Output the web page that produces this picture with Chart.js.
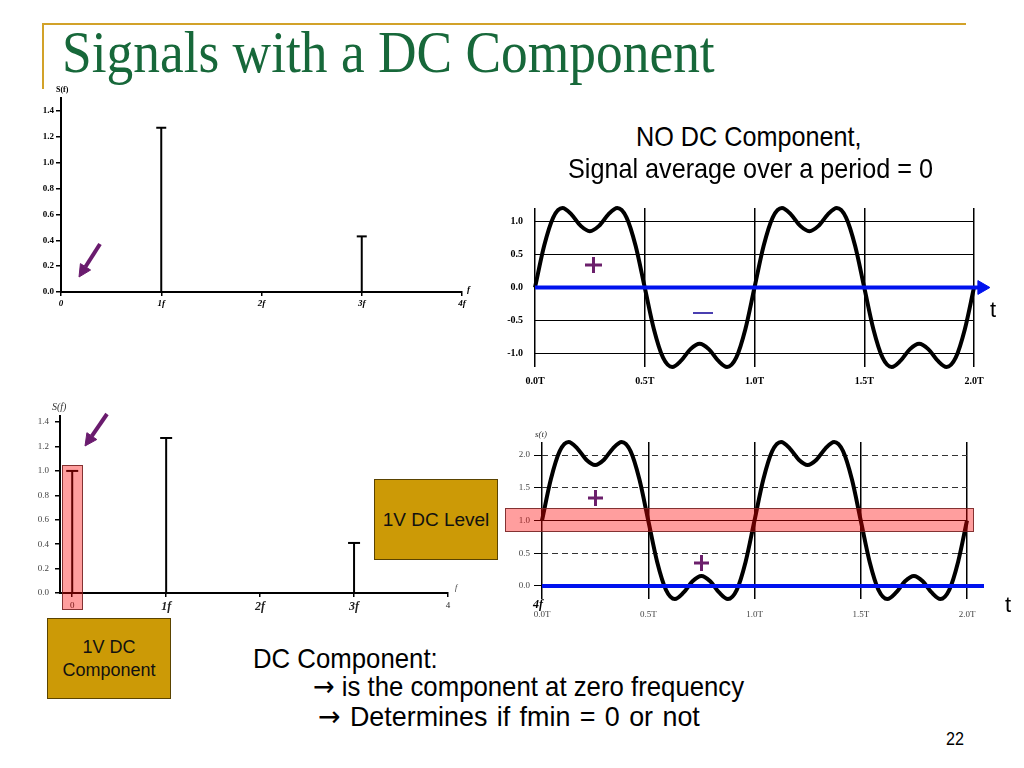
<!DOCTYPE html>
<html>
<head>
<meta charset="utf-8">
<script src="https://cdn.jsdelivr.net/npm/chart.js@4.4.1/dist/chart.umd.min.js"></script>
<style>
  body { margin: 0; background: #fff; }
  #slide { position: relative; width: 1024px; height: 768px; overflow: hidden; font-family: "Liberation Sans", Arial, sans-serif; }
  .panel { position: absolute; }
  .panel canvas { display: block; }
  .txt { position: absolute; white-space: nowrap; line-height: 1; transform-origin: 0 0; color: #000; }
  .serif { font-family: "Liberation Serif", "Times New Roman", serif; }
  .arr { font-family: "DejaVu Sans", sans-serif; }
  .gold { position: absolute; background: #cc9a06; border: 1px solid #5a4300; display: flex; align-items: center; justify-content: center; text-align: center; color: #111; z-index: 3; }
  .pink { position: absolute; background: rgba(255, 0, 0, 0.38); border: 1px solid rgba(110, 30, 30, 0.85); box-sizing: border-box; z-index: 3; }
  svg.over { position: absolute; left: 0; top: 0; z-index: 4; }
</style>
</head>
<body>
<div id="slide">
  <!-- frame lines -->
  <div style="position:absolute;left:42px;top:23px;width:924px;height:2px;background:#d2a229;"></div>
  <div style="position:absolute;left:42px;top:23px;width:2px;height:66px;background:#d2a229;"></div>
  <div class="txt serif" style="left:62px;top:22px;font-size:60px;color:#17683a;transform:scaleX(0.89);">Signals with a DC Component</div>

  <div class="panel" style="left:30px;top:80px;"><canvas id="specTop" width="460" height="240"></canvas></div>
  <div class="panel" style="left:490px;top:180px;"><canvas id="waveTop" width="534" height="215"></canvas></div>
  <div class="panel" style="left:30px;top:395px;"><canvas id="specDc" width="440" height="225"></canvas></div>
  <div class="panel" style="left:490px;top:425px;"><canvas id="waveDc" width="534" height="200"></canvas></div>

  <!-- axis captions -->
  <div class="txt serif" style="left:56px;top:86px;font-size:8px;font-weight:bold;">S(f)</div>
  <div class="txt serif" style="left:467px;top:285px;font-size:9px;font-weight:bold;font-style:italic;">f</div>
  <div class="txt serif" style="left:52px;top:402px;font-size:10px;font-style:italic;color:#333;">S(f)</div>
  <div class="txt serif" style="left:455px;top:584px;font-size:8px;font-style:italic;color:#333;">f</div>
  <div class="txt serif" style="left:535px;top:430px;font-size:9px;font-style:italic;color:#333;">s(t)</div>
  <div class="txt serif" style="left:533px;top:598px;font-size:12px;font-weight:bold;font-style:italic;">4f</div>
  <div class="txt" style="left:990px;top:299px;font-size:22px;">t</div>
  <div class="txt" style="left:1005px;top:594px;font-size:22px;">t</div>

  <div class="txt" style="left:636px;top:123px;font-size:28px;transform:scaleX(0.9);">NO DC Component,</div>
  <div class="txt" style="left:568px;top:155px;font-size:28px;transform:scaleX(0.9);">Signal average over a period = 0</div>

  <div class="pink" style="left:62px;top:465px;width:21px;height:145px;"></div>
  <div class="pink" style="left:505px;top:508px;width:469px;height:24px;"></div>

  <div class="gold" style="left:374px;top:479px;width:122px;height:79px;font-size:19px;">1V DC Level</div>
  <div class="gold" style="left:47px;top:618px;width:122px;height:79px;font-size:18px;line-height:23px;">1V DC<br>Component</div>

  <div class="txt" style="left:253px;top:645px;font-size:28px;transform:scaleX(0.92);">DC Component:</div>
  <div class="txt" style="left:313px;top:673px;font-size:28px;transform:scaleX(0.92);"><span class="arr">&rarr;</span> is the component at zero frequency</div>
  <div class="txt" style="left:318px;top:703px;font-size:28px;word-spacing:2px;transform:scaleX(0.96);"><span class="arr">&rarr;</span> Determines if fmin = 0 or not</div>
  <div class="txt" style="left:946px;top:729px;font-size:19px;transform:scaleX(0.85);">22</div>

  <svg class="over" width="1024" height="768">
    <g stroke="#6a1b6e" fill="#6a1b6e">
      <line x1="100" y1="244" x2="85.5" y2="266.8" stroke-width="4"/>
      <polygon points="79,277 90.6,270 80.4,263.6" stroke-width="1"/>
      <line x1="107" y1="414" x2="91.8" y2="436.1" stroke-width="4"/>
      <polygon points="85,446 96.8,439.5 86.9,432.7" stroke-width="1"/>
    </g>
    <g stroke="#6b1f6b" stroke-width="3">
      <line x1="585" y1="265" x2="602" y2="265"/>
      <line x1="593.5" y1="257" x2="593.5" y2="273"/>
      <line x1="588" y1="498" x2="603" y2="498"/>
      <line x1="595.5" y1="490" x2="595.5" y2="506"/>
      <line x1="694" y1="563" x2="709" y2="563"/>
      <line x1="701.5" y1="555" x2="701.5" y2="571"/>
    </g>
    <line x1="693" y1="313" x2="713" y2="313" stroke="#4a3fb0" stroke-width="2"/>
  </svg>
</div>

<script>
// spectrum without DC
const topFreqs = [1, 3];
const topAmps = [1.27, 0.43];
const topFreqLabels = ['0', '1f', '2f', '3f', '4f'];

// spectrum with 1V DC
const dcFreqs = [0, 1, 3];
const dcAmps = [1.0, 1.27, 0.41];
const dcFreqLabels = ['0', '1f', '2f', '3f', '4'];

// time signals, sampled every T/24 over two periods
const sampleStep = 1 / 24;
const wave = [
  0, 0.63, 1.06, 1.20, 1.10, 0.93, 0.85, 0.93, 1.10, 1.20, 1.06, 0.63,
  0, -0.63, -1.06, -1.20, -1.10, -0.93, -0.85, -0.93, -1.10, -1.20, -1.06, -0.63,
  0, 0.63, 1.06, 1.20, 1.10, 0.93, 0.85, 0.93, 1.10, 1.20, 1.06, 0.63,
  0, -0.63, -1.06, -1.20, -1.10, -0.93, -0.85, -0.93, -1.10, -1.20, -1.06, -0.63,
  0,
];
const waveDc = [
  1, 1.63, 2.06, 2.20, 2.10, 1.93, 1.85, 1.93, 2.10, 2.20, 2.06, 1.63,
  1, 0.37, -0.06, -0.20, -0.10, 0.07, 0.15, 0.07, -0.10, -0.20, -0.06, 0.37,
  1, 1.63, 2.06, 2.20, 2.10, 1.93, 1.85, 1.93, 2.10, 2.20, 2.06, 1.63,
  1, 0.37, -0.06, -0.20, -0.10, 0.07, 0.15, 0.07, -0.10, -0.20, -0.06, 0.37,
  1,
];
const timeLabels = ['0.0T', '0.5T', '1.0T', '1.5T', '2.0T'];
const dcLevel = 1;

const BLUE = 'rgb(0, 18, 238)';
const SERIF = '"Liberation Serif", "Times New Roman", serif';

Chart.defaults.font.family = SERIF;

function stems(freqs, amps, cap) {
  return freqs.map((f, i) => ({
    data: [{ x: f, y: 0 }, { x: f, y: amps[i] }],
    borderColor: '#000',
    borderWidth: 2,
    pointStyle: 'line',
    pointRadius: [0, cap],
    pointBorderWidth: 2,
    pointBorderColor: '#000',
    clip: false,
  }));
}

function curve(values) {
  return {
    data: values.map((v, i) => ({ x: i * sampleStep, y: v })),
    borderColor: '#000',
    borderWidth: 4,
    pointRadius: 0,
    cubicInterpolationMode: 'monotone',
    clip: false,
  };
}

function arrow(xEnd) {
  return {
    data: [{ x: 0, y: 0 }, { x: xEnd, y: 0 }],
    borderColor: BLUE,
    borderWidth: 4,
    pointStyle: 'triangle',
    pointRotation: 90,
    pointRadius: [0, 8],
    pointBackgroundColor: BLUE,
    pointBorderColor: BLUE,
    pointBorderWidth: 1,
    clip: false,
  };
}

function makeChart(id, datasets, scales, padding) {
  return new Chart(document.getElementById(id), {
    type: 'line',
    data: { datasets },
    options: {
      responsive: false,
      animation: false,
      devicePixelRatio: 1,
      events: [],
      layout: { padding },
      plugins: { legend: { display: false }, tooltip: { enabled: false } },
      scales,
    },
  });
}

// top left: spectrum, no DC
makeChart('specTop', stems(topFreqs, topAmps, 5), {
  x: {
    type: 'linear', min: 0, max: 4,
    afterFit: (s) => { s.height = 20; },
    border: { color: '#000', width: 2 },
    grid: { drawOnChartArea: false, color: '#000', lineWidth: 1.5, tickLength: 4 },
    ticks: {
      stepSize: 1, includeBounds: false, padding: 2, color: '#000',
      font: { size: 9, weight: 'bold', style: 'italic' },
      callback: (v, i) => topFreqLabels[i],
    },
  },
  y: {
    min: 0, max: 1.5,
    afterFit: (s) => { s.width = 31; },
    border: { color: '#000', width: 2 },
    grid: { drawOnChartArea: false, color: '#000', lineWidth: 1.5, tickLength: 5 },
    ticks: {
      stepSize: 0.2, includeBounds: false, padding: 2, color: '#000',
      font: { size: 9, weight: 'bold' },
      callback: (v) => v.toFixed(1),
    },
  },
}, { top: 18, right: 28, bottom: 8, left: 0 });

// top right: signal without DC
makeChart('waveTop', [arrow(2.036), curve(wave)], {
  x: {
    type: 'linear', min: 0, max: 2,
    afterFit: (s) => { s.height = 20; },
    border: { display: false },
    grid: { color: '#000', lineWidth: 1.5, drawTicks: false },
    ticks: {
      stepSize: 0.5, includeBounds: false, padding: 8, color: '#000',
      font: { size: 10, weight: 'bold' },
      callback: (v, i) => timeLabels[i],
    },
  },
  y: {
    min: -1.2, max: 1.2,
    afterFit: (s) => { s.width = 45; },
    border: { display: false },
    grid: { color: '#000', lineWidth: 1, drawTicks: false },
    ticks: {
      stepSize: 0.5, includeBounds: false, padding: 12, color: '#000',
      font: { size: 10, weight: 'bold' },
      callback: (v) => v.toFixed(1),
    },
  },
}, { top: 28, right: 50, bottom: 8, left: 0 });

// bottom left: spectrum with DC
makeChart('specDc', stems(dcFreqs, dcAmps, 6), {
  x: {
    type: 'linear', min: -0.13, max: 4,
    afterFit: (s) => { s.height = 20; },
    border: { color: '#000', width: 2 },
    grid: { drawOnChartArea: false, color: '#000', lineWidth: 1.5, tickLength: 4 },
    ticks: {
      stepSize: 1, includeBounds: false, padding: 3, color: '#222',
      font: (ctx) => (ctx.index === 0 || ctx.index === 4)
        ? { size: 9 }
        : { size: 12, weight: 'bold', style: 'italic' },
      callback: (v, i) => dcFreqLabels[i],
    },
  },
  y: {
    min: 0, max: 1.45,
    afterFit: (s) => { s.width = 30; },
    border: { color: '#000', width: 2 },
    grid: { drawOnChartArea: false, color: '#000', lineWidth: 1.5, tickLength: 5 },
    ticks: {
      stepSize: 0.2, includeBounds: false, padding: 6, color: '#444',
      font: { size: 9 },
      callback: (v) => v.toFixed(1),
    },
  },
}, { top: 21, right: 22, bottom: 7, left: 0 });

// bottom right: signal with 1V DC
const dcLine = {
  data: [{ x: 0, y: dcLevel }, { x: 2, y: dcLevel }],
  borderColor: '#000',
  borderWidth: 1,
  pointRadius: 0,
};
makeChart('waveDc', [arrow(2.08), curve(waveDc), dcLine], {
  x: {
    type: 'linear', min: 0, max: 2,
    afterFit: (s) => { s.height = 18; },
    border: { display: false },
    grid: { color: '#000', lineWidth: 1.5, drawTicks: false },
    ticks: {
      stepSize: 0.5, includeBounds: false, padding: 10, color: '#444',
      font: { size: 9 },
      callback: (v, i) => timeLabels[i],
    },
  },
  y: {
    min: -0.2, max: 2.2,
    afterFit: (s) => { s.width = 52; },
    border: { display: false, dash: [6, 4] },
    grid: { color: '#333', lineWidth: 1, tickLength: 8, tickColor: '#000' },
    ticks: {
      stepSize: 0.5, includeBounds: false, padding: 4, color: '#444',
      font: { size: 9 },
      callback: (v) => v.toFixed(1),
    },
  },
}, { top: 17, right: 57, bottom: 8, left: 0 });
</script>
</body>
</html>
